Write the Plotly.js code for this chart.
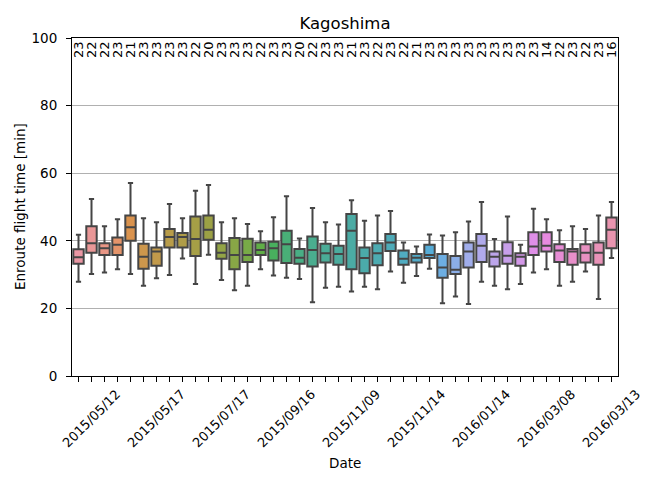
<!DOCTYPE html>
<html><head><meta charset="utf-8">
<script src="https://cdn.plot.ly/plotly-3.0.1.min.js"></script>
<style>html,body{margin:0;padding:0;background:#fff}#chart{width:652px;height:478px}</style>
</head><body><div id="chart"></div>
<script>
// Box statistics per category (minutes)
const upperWhisker = [41.8,52.4,44.3,46.4,57.1,46.7,45.5,50.9,46.7,54.8,56.5,45.5,46.7,45.0,42.8,47.0,53.2,40.7,49.7,45.5,44.8,52.0,45.9,47.5,48.8,39.5,38.3,41.9,41.6,42.5,45.7,51.5,40.5,47.2,38.8,49.5,46.4,43.1,44.3,43.5,47.5,51.5];
const q3Values     = [37.5,44.3,39.3,41.0,47.5,39.1,38.0,43.5,42.3,47.2,47.5,39.3,40.8,40.6,39.5,39.7,43.0,37.6,41.3,39.1,38.5,47.9,38.0,39.3,42.0,37.1,36.1,38.8,36.1,35.5,39.5,42.0,36.8,39.6,36.3,42.5,42.5,39.0,37.6,39.0,39.5,46.9];
const medianValues = [35.1,39.3,37.8,38.8,44.0,35.3,36.8,41.1,41.1,40.5,43.3,36.5,35.8,35.8,37.3,37.8,39.0,35.0,37.3,36.3,36.1,43.0,34.9,36.3,39.5,34.7,35.0,35.8,32.1,31.4,36.8,38.5,35.3,35.6,35.3,38.3,38.5,37.1,36.8,36.5,36.5,43.3];
const q1Values     = [33.2,36.5,35.8,35.8,40.0,31.7,32.6,38.0,38.0,35.5,40.3,34.7,31.6,33.7,35.8,34.2,33.4,33.2,32.4,33.6,32.9,31.6,30.4,32.8,37.0,32.9,33.6,34.9,29.1,30.2,32.1,33.7,32.4,33.2,32.6,35.8,36.8,33.7,32.9,33.6,32.9,37.8];
const lowerWhisker = [27.9,30.2,30.6,31.6,30.2,26.7,28.9,29.9,34.8,27.2,35.9,28.4,25.4,26.7,31.6,29.7,29.1,28.7,21.8,26.1,26.4,25.0,26.4,25.7,30.9,27.6,29.6,31.7,21.5,23.5,21.3,27.9,26.7,25.7,27.2,30.6,31.6,26.7,27.9,30.9,22.8,34.9];
const counts = [23,22,22,23,21,23,23,23,23,22,20,23,23,23,22,23,23,20,22,23,23,21,23,22,23,22,21,23,23,23,23,23,23,23,23,23,14,22,23,22,23,16];
const tickIndex = [1,6,11,16,21,26,31,36,41];
const tickLabels = ["2015/05/12","2015/05/17","2015/07/17","2015/09/16","2015/11/09","2015/11/14","2016/01/14","2016/03/08","2016/03/13"];

// seaborn husl palette (l=.7) + desaturate(.75)
const M=[[3.2406,-1.5372,-0.4986],[-0.9689,1.8758,0.0415],[0.0557,-0.2040,1.0570]];
const refY=1.0,refU=0.19784,refV=0.46834,labE=0.008856,labK=903.3;
function maxChroma(L,H){const hr=H*Math.PI/180,sH=Math.sin(hr),cH=Math.cos(hr);
 const s1=Math.pow(L+16,3)/1560896,s2=s1>labE?s1:L/labK;let r=Infinity;
 for(const [m1,m2,m3] of M){const top=(0.99915*m1+1.05122*m2+1.14460*m3)*s2;
  const rb=0.86330*m3-0.17266*m2,lb=0.12949*m3-0.38848*m1;const bot=(rb*sH+lb*cH)*s2;
  for(const t of [0,1]){const C=L*(top-1.05122*t)/(bot+0.17266*sH*t);if(C>0&&C<r)r=C;}}
 return r;}
function fInv(t){return Math.pow(t,3)>labE?Math.pow(t,3):(116*t-16)/labK;}
function fromLin(c){return c<=0.0031308?12.92*c:1.055*Math.pow(c,1/2.4)-0.055;}
function husl2rgb(H,S,L){const C=maxChroma(L,H)/100*S;const hr=H*Math.PI/180;
 const U=Math.cos(hr)*C,V=Math.sin(hr)*C;const vY=fInv((L+16)/116);
 const vU=U/(13*L)+refU,vV=V/(13*L)+refV;const Y=vY*refY;
 const X=0-(9*Y*vU)/((vU-4)*vV-vU*vV);const Z=(9*Y-15*vV*Y-vV*X)/(3*vV);
 return M.map(r=>Math.min(1,Math.max(0,fromLin(r[0]*X+r[1]*Y+r[2]*Z))));}
function rgb2hls(r,g,b){const mx=Math.max(r,g,b),mn=Math.min(r,g,b),l=(mx+mn)/2;if(mx===mn)return[0,l,0];
 const s=l<=0.5?(mx-mn)/(mx+mn):(mx-mn)/(2-mx-mn);const rc=(mx-r)/(mx-mn),gc=(mx-g)/(mx-mn),bc=(mx-b)/(mx-mn);
 let h=r===mx?bc-gc:(g===mx?2+rc-bc:4+gc-rc);h=((h/6)%1+1)%1;return[h,l,s];}
function vv(m1,m2,h){h=((h%1)+1)%1;if(h<1/6)return m1+(m2-m1)*h*6;if(h<0.5)return m2;if(h<2/3)return m1+(m2-m1)*(2/3-h)*6;return m1;}
function hls2rgb(h,l,s){if(s===0)return[l,l,l];const m2=l<=0.5?l*(1+s):l+s-l*s,m1=2*l-m2;return[vv(m1,m2,h+1/3),vv(m1,m2,h),vv(m1,m2,h-1/3)];}
const n=counts.length;
const base=[];for(let i=0;i<n;i++){let h=(i/n+0.01)%1;base.push(husl2rgb(h*359,0.9*99,0.7*99));}
const hex=c=>'#'+c.map(v=>Math.round(v*255).toString(16).padStart(2,'0')).join('');
const colors=base.map(c=>{const [h,l,s]=rgb2hls(...c);return hex(hls2rgb(h,l,s*0.75));});
const lum=Math.min(...base.map(c=>rgb2hls(...c)[1]))*0.6;
const gray=hex([lum,lum,lum]);

const FONT='DejaVu Sans, sans-serif';
const traces=[];
for(let i=0;i<n;i++){
 traces.push({type:'box',x:[i],q1:[q1Values[i]],median:[medianValues[i]],q3:[q3Values[i]],
  lowerfence:[lowerWhisker[i]],upperfence:[upperWhisker[i]],width:0.8,whiskerwidth:0.5,
  fillcolor:colors[i],line:{color:gray,width:2},boxpoints:false,showlegend:false,hoverinfo:'skip'});
}
const annotations=[];
for(let i=0;i<n;i++){
 annotations.push({x:i,xref:'x',y:1,yref:'paper',text:String(counts[i]),showarrow:false,textangle:-90,
  xanchor:'center',yanchor:'top',yshift:-1,font:{family:FONT,size:13,color:'#000'}});
}
tickIndex.forEach((ix,k)=>{
 annotations.push({x:ix,xref:'x',y:0,yref:'paper',text:tickLabels[k],showarrow:false,textangle:-45,
  xanchor:'center',yanchor:'top',yshift:-8,font:{family:FONT,size:13,color:'#000'}});
});
annotations.push({x:0.5,xref:'paper',y:0,yref:'paper',text:'Date',showarrow:false,xanchor:'center',yanchor:'middle',yshift:-87,font:{family:FONT,size:13.5,color:'#000'}});
annotations.push({x:0,xref:'paper',y:0.5,yref:'paper',text:'Enroute flight time [min]',showarrow:false,textangle:-90,xanchor:'center',yanchor:'middle',xshift:-52,font:{family:FONT,size:13.5,color:'#000'}});

const layout={width:652,height:478,margin:{l:72,r:34,t:38,b:102},paper_bgcolor:'#fff',plot_bgcolor:'#fff',
 font:{family:FONT,size:13,color:'#000'},boxmode:'overlay',
 title:{text:'Kagoshima',x:0.5,xref:'paper',y:1-23/478,yref:'container',xanchor:'center',yanchor:'middle',font:{family:FONT,size:16.5,color:'#000'}},
 xaxis:{type:'linear',range:[-0.5,n-0.5],tickvals:[...Array(n).keys()],ticktext:Array(n).fill(''),ticks:'outside',ticklen:5,tickwidth:1,tickcolor:'#000',
  showline:true,linecolor:'#000',linewidth:1,mirror:true,showgrid:false,zeroline:false,fixedrange:true},
 yaxis:{range:[0,100],tickvals:[0,20,40,60,80,100],ticks:'outside',ticklen:5,tickwidth:1,tickcolor:'#000',ticklabelstandoff:6,
  showline:true,linecolor:'#000',linewidth:1,mirror:true,showgrid:true,gridcolor:'#b0b0b0',gridwidth:1,zeroline:false,
  tickfont:{family:FONT,size:13.5,color:'#000'}},
 annotations:annotations};
Plotly.newPlot('chart',traces,layout,{displayModeBar:false,staticPlot:true});
</script></body></html>
